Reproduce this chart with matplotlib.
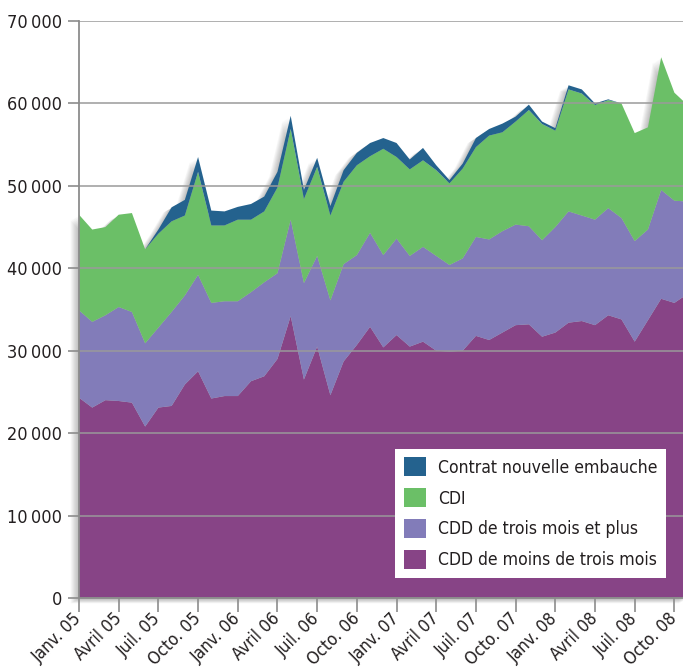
import numpy as np
import matplotlib
matplotlib.use("Agg")
import matplotlib.pyplot as plt
from matplotlib.patches import Patch
from matplotlib import transforms, font_manager

# pick a condensed sans if one is installed
def find_narrow():
    best = None
    for f in font_manager.fontManager.ttflist:
        key = (f.name + ' ' + f.fname).lower()
        if 'condensed' not in key and 'narrow' not in key:
            continue
        if f.style != 'normal' or 'semi' in key or 'extra' in key or 'ultra' in key:
            continue
        w = f.weight if isinstance(f.weight, int) else 400
        score = abs(w - 400)
        if 'liberation' in key:
            score -= 50
        if best is None or score < best[0]:
            best = (score, f)
    return best[1] if best else None

nf = find_narrow()
if nf is not None:
    plt.rcParams['font.family'] = [nf.name, 'DejaVu Sans']
    plt.rcParams['font.stretch'] = nf.stretch
else:
    plt.rcParams['font.family'] = ['DejaVu Sans']

# monthly values, janv. 2005 -> nov. 2008
months = np.arange(47)
cdd_court = [24300, 23100, 24000, 23900, 23700, 20800, 23100, 23300, 25900, 27500,
             24200, 24500, 24500, 26300, 26900, 29000, 34200, 26500, 30500, 24600,
             28700, 30700, 32900, 30400, 31900, 30500, 31100, 30000, 29900, 30000,
             31800, 31300, 32200, 33100, 33200, 31700, 32200, 33400, 33600, 33100,
             34300, 33800, 31100, 33700, 36300, 35800, 36900]
cdd_long = [10600, 10400, 10300, 11400, 11000, 10100, 9700, 11400, 10800, 11700,
            11600, 11500, 11500, 10800, 11400, 10400, 11700, 11700, 11000, 11500,
            11800, 10900, 11400, 11200, 11700, 11000, 11500, 11500, 10500, 11200,
            12000, 12200, 12300, 12200, 11900, 11700, 12800, 13500, 12800, 12800,
            13000, 12300, 12200, 11000, 13200, 12400, 11200]
cdi = [11600, 11200, 10700, 11200, 12000, 11400, 11400, 11000, 9700, 12500,
       9400, 9200, 9900, 8800, 8600, 10400, 11000, 10200, 10800, 10300,
       10000, 10900, 9300, 12900, 9900, 10500, 10500, 10400, 9900, 10900,
       10900, 12600, 12000, 12500, 14100, 14100, 11700, 14800, 14800, 13900,
       13100, 13900, 13100, 12400, 16100, 13100, 11700]
cne = [0, 0, 0, 0, 0, 0, 500, 1700, 1900, 1800,
       1800, 1700, 1550, 1900, 1800, 1900, 1600, 1100, 1100, 1150,
       1400, 1500, 1600, 1300, 1700, 1200, 1500, 600, 400, 600,
       1100, 800, 1050, 600, 650, 300, 300, 500, 500, 200,
       100, 0, 0, 0, 0, 0, 0]

labels = ["CDD de moins de trois mois", "CDD de trois mois et plus", "CDI",
          "Contrat nouvelle embauche"]
colors = ["#874486", "#827cb9", "#6bbf67", "#24628e"]

tick_pos = np.arange(0, 46, 3)
tick_labels = ["Janv. 05", "Avril 05", "Juil. 05", "Octo. 05",
               "Janv. 06", "Avril 06", "Juil. 06", "Octo. 06",
               "Janv. 07", "Avril 07", "Juil. 07", "Octo. 07",
               "Janv. 08", "Avril 08", "Juil. 08", "Octo. 08"]

fig = plt.figure(figsize=(6.83, 6.71), dpi=100)
ax = fig.add_axes([79/683, 1-598/671, 604/683, 577/671])

total = np.array(cdd_court) + np.array(cdd_long) + np.array(cdi) + np.array(cne)

# soft drop shadow behind the stack
for i in range(1, 9):
    tr = transforms.offset_copy(ax.transData, fig=fig, x=-1.1*i, y=-0.6*i, units='dots')
    ax.fill_between(months, 0, total, color='black', alpha=0.035, lw=0,
                    transform=tr, clip_on=False, zorder=0.5)

ax.stackplot(months, cdd_court, cdd_long, cdi, cne, colors=colors, lw=0, zorder=1)

ax.set_xlim(0, 45.65)
ax.set_ylim(0, 70000)
ax.set_yticks(np.arange(0, 70001, 10000))
ax.set_yticklabels([f"{v//1000}\u2009000" if v else "0" for v in range(0, 70001, 10000)])
ax.set_xticks(tick_pos)
ax.set_xticklabels(tick_labels, rotation=45, ha='right', va='center',
                   rotation_mode='anchor')

ax.grid(axis='y', color='#9a9a9a', lw=1.1)
ax.grid(axis='x', visible=False)
for s in ['top', 'right']:
    ax.spines[s].set_visible(False)
for s in ['left', 'bottom']:
    ax.spines[s].set_color('#8c8c8c')
    ax.spines[s].set_linewidth(1.3)
ax.tick_params(axis='y', length=8, width=1.2, color='#8c8c8c', labelsize=13,
               labelcolor='#231f20', pad=4)
ax.tick_params(axis='x', length=10, width=1.2, color='#8c8c8c', labelsize=12.5,
               labelcolor='#231f20', pad=3)
ax.set_facecolor('white')

handles = [Patch(facecolor=c, edgecolor='none') for c in colors]
leg = ax.legend(handles[::-1], labels[::-1], loc='lower right',
                bbox_to_anchor=(0.972, 0.035), borderaxespad=0,
                fontsize=12.6, frameon=True, fancybox=False, framealpha=1,
                handlelength=1.3, handleheight=1.3, labelspacing=0.65,
                handletextpad=0.65, borderpad=0.5)
leg.get_frame().set_edgecolor('none')
leg.get_frame().set_facecolor('white')
for t in leg.get_texts():
    t.set_color('#231f20')

fig.savefig("out.png", dpi=100)
